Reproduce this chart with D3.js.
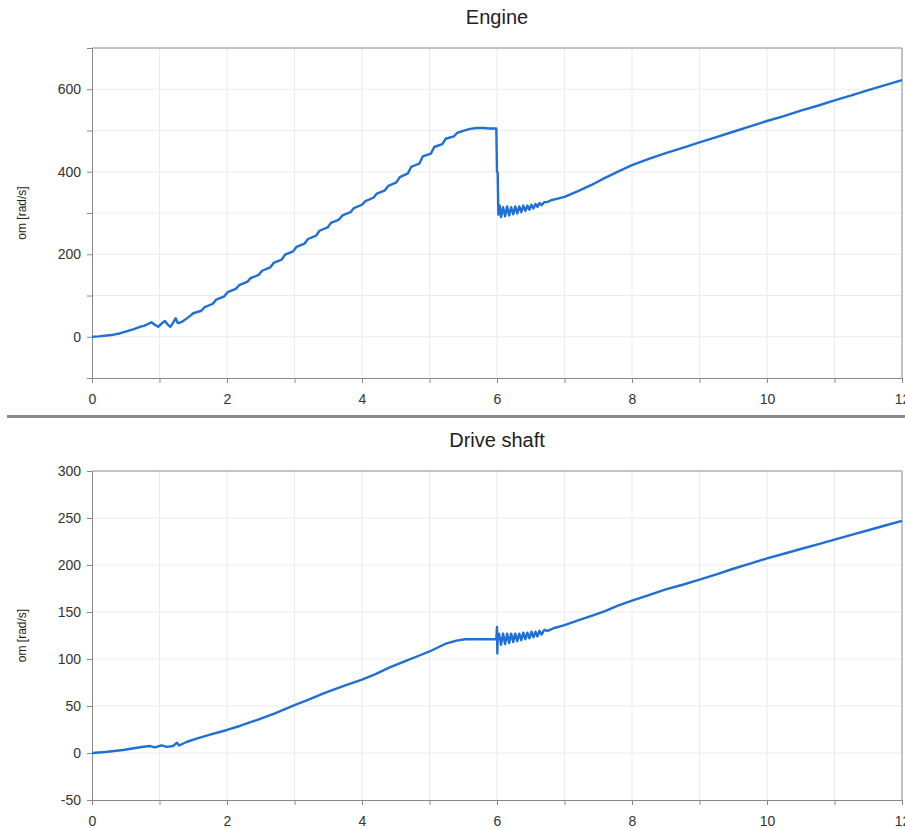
<!DOCTYPE html>
<html>

<head>
  <meta charset="utf-8">
  <title>Engine / Drive shaft</title>
  <script type="text/javascript" src="https://cdn.jsdelivr.net/npm/d3@7"></script>
  <style type="text/css">
    body {
      margin: 0;
      background: #fff;
    }

    svg text {
      font-family: "Liberation Sans", Arial, sans-serif;
    }
  </style>
</head>

<body>
  <div id="chart"></div>

  <script type="text/javascript">
    // Data
    const engineTime = [
      0, 0.1, 0.22, 0.32, 0.41, 0.51, 0.61, 0.71, 0.78, 0.83, 0.88, 0.93, 0.98, 1.03, 1.08, 1.12, 1.16, 1.21, 1.24, 1.27, 1.3, 1.35, 1.4, 1.45,
      1.5, 1.62, 1.67, 1.79, 1.84, 1.96, 2.01, 2.13, 2.18, 2.3, 2.35, 2.47, 2.52, 2.64, 2.69, 2.81, 2.86, 2.98,
      3.03, 3.15, 3.2, 3.32, 3.37, 3.49, 3.54, 3.66, 3.71, 3.83, 3.88, 4.0, 4.05, 4.17, 4.22, 4.34, 4.39, 4.51,
      4.56, 4.68, 4.73, 4.85, 4.9, 5.02, 5.07, 5.19, 5.24, 5.36, 5.41, 5.5, 5.6, 5.7, 5.8, 5.9, 5.99,
      6.0, 6.01, 6.02, 6.04, 6.06, 6.09, 6.12, 6.15, 6.18, 6.21, 6.24, 6.27, 6.3, 6.33, 6.36, 6.39, 6.42, 6.45,
      6.48, 6.51, 6.54, 6.57, 6.6, 6.63, 6.66, 6.7, 6.75, 6.8, 6.9, 7.0, 7.2, 7.4, 7.6, 7.8, 8.0,
      8.25, 8.5, 8.75, 9.0, 9.25, 9.5, 9.75, 10.0, 10.25, 10.5, 10.75, 11.0, 11.25, 11.5, 11.75, 12.0
    ];
    const engineOm = [
      0, 1, 3, 5, 8, 13, 18, 24, 27, 31, 35, 29, 24, 32, 38, 30, 24, 36, 45, 33, 34, 38, 44, 50,
      57, 63, 72, 80, 90, 98, 108, 116, 125, 133, 142, 150, 160, 168, 179, 187, 199, 207,
      218, 226, 237, 245, 257, 265, 276, 284, 294, 302, 312, 320, 329, 337, 347, 355, 366, 374,
      387, 396, 412, 420, 437, 444, 460, 467, 480, 486, 494, 499, 504, 506, 506, 505, 505,
      400, 398, 296, 318, 290, 314, 292, 316, 294, 314, 297, 316, 299, 316, 302, 318, 305, 318,
      308, 320, 311, 322, 315, 324, 319, 326, 327, 331, 335, 339, 353, 368, 385, 401, 416,
      431, 445, 458, 471, 484, 497, 510, 523, 535, 548, 560, 573, 585, 598, 610, 622
    ];

    const shaftTime = [
      0, 0.2, 0.46, 0.76, 0.86, 0.93, 1.03, 1.11, 1.2, 1.26, 1.29, 1.4, 1.55, 1.75, 2.0, 2.2, 2.44, 2.7,
      3.0, 3.2, 3.43, 3.7, 4.0, 4.2, 4.41, 4.65, 4.86, 5.0, 5.23, 5.4, 5.53, 5.99, 6.0, 6.005, 6.01,
      6.03, 6.06, 6.09, 6.12, 6.15, 6.18, 6.21, 6.24, 6.27, 6.3, 6.33, 6.36, 6.39, 6.42, 6.45, 6.48,
      6.51, 6.54, 6.57, 6.6, 6.63, 6.66, 6.7, 6.75, 6.85, 7.0, 7.2, 7.4, 7.6, 7.8, 8.0,
      8.25, 8.5, 8.75, 9.0, 9.25, 9.5, 9.75, 10.0, 10.25, 10.5, 10.75, 11.0, 11.25, 11.5, 11.75, 12.0
    ];
    const shaftOm = [
      0, 1, 3.2, 6.7, 7.4, 6, 8.2, 6.5, 7.5, 11, 8, 11.7, 15.3, 19.5, 24.5, 29, 35, 42,
      51, 56.5, 63.5, 70.5, 78, 84, 91, 98, 104, 108, 116, 119.5, 121, 121, 134, 106, 121,
      127, 115, 127, 116, 127, 117, 127, 118, 127, 119, 127, 120, 128, 121, 128, 122,
      129, 123, 129, 124, 130, 126, 131, 130, 133, 136, 141, 146, 151, 157, 162,
      168, 174, 179, 184.5, 190, 196, 201.5, 207, 212, 217, 222, 227, 232, 237, 242, 247
    ];

    const xTicks = d3.range(0, 13, 1);
    const engineTicks = d3.range(-100, 701, 100);
    const shaftTicks = d3.range(-50, 301, 50);

    const w = 905;
    const h = 829;
    const left = 92;
    const right = 902;
    const lineColor = "#1f6fd4";
    const axisColor = "#888";

    const svg = d3.select("#chart")
      .append("svg")
      .attr("width", w)
      .attr("height", h);

    const x = d3.scaleLinear().domain([0, 12]).range([left, right]);

    function drawPanel(p) {
      const y = d3.scaleLinear().domain(p.domain).range([p.bottom, p.top]);
      const g = svg.append("g");

      // grid
      g.selectAll(".vgrid")
        .data(xTicks.slice(1, -1))
        .enter()
        .append("line")
        .attr("x1", d => x(d)).attr("x2", d => x(d))
        .attr("y1", p.top).attr("y2", p.bottom)
        .attr("stroke", "#ebebeb");
      g.selectAll(".hgrid")
        .data(p.ticks.slice(1, -1))
        .enter()
        .append("line")
        .attr("x1", left).attr("x2", right)
        .attr("y1", d => y(d)).attr("y2", d => y(d))
        .attr("stroke", "#ebebeb");

      // frame top + right
      g.append("path")
        .attr("d", `M${left},${p.top}H${right}V${p.bottom}`)
        .attr("fill", "none")
        .attr("stroke", axisColor);

      const xAxis = g.append("g")
        .attr("transform", `translate(0,${p.bottom})`)
        .call(d3.axisBottom(x)
          .tickValues(xTicks)
          .tickSize(5)
          .tickSizeOuter(0)
          .tickFormat(d => d % 2 === 0 ? d : ""));

      const yAxis = g.append("g")
        .attr("transform", `translate(${left},0)`)
        .call(d3.axisLeft(y)
          .tickValues(p.ticks)
          .tickSize(5)
          .tickSizeOuter(0)
          .tickFormat(p.format));

      [xAxis, yAxis].forEach(a => {
        a.selectAll("path, line").attr("stroke", axisColor);
        a.selectAll("text")
          .attr("fill", "#333")
          .style("font-size", "14px")
          .style("font-family", "'Liberation Sans', Arial, sans-serif");
      });
      xAxis.selectAll("text").attr("y", 16);
      yAxis.selectAll("text").attr("x", -11);

      // title
      g.append("text")
        .attr("x", (left + right) / 2)
        .attr("y", p.titleY)
        .attr("text-anchor", "middle")
        .attr("fill", "#222")
        .style("font-size", "20px")
        .text(p.title);

      // y label
      g.append("text")
        .attr("transform", `translate(22,${(p.top + p.bottom) / 2}) rotate(-90)`)
        .attr("text-anchor", "middle")
        .attr("dy", "0.35em")
        .attr("fill", "#222")
        .style("font-size", "12px")
        .text("om [rad/s]");

      const line = d3.line()
        .x((d, i) => x(p.t[i]))
        .y(d => y(d));

      g.append("path")
        .datum(p.v)
        .attr("d", line)
        .attr("fill", "none")
        .attr("stroke", lineColor)
        .attr("stroke-width", 2.4)
        .attr("stroke-linejoin", "round");
    }

    drawPanel({
      title: "Engine", titleY: 24, top: 48, bottom: 378,
      domain: [-100, 700], ticks: engineTicks,
      format: d => (d >= 0 && d % 200 === 0 && d < 700) ? d : "",
      t: engineTime, v: engineOm
    });

    // separator between the two panels
    svg.append("rect")
      .attr("x", 7).attr("y", 415)
      .attr("width", w - 7).attr("height", 3)
      .attr("fill", "#8a8a8a");

    drawPanel({
      title: "Drive shaft", titleY: 447, top: 471, bottom: 800,
      domain: [-50, 300], ticks: shaftTicks,
      format: d => d,
      t: shaftTime, v: shaftOm
    });
  </script>
</body>

</html>
